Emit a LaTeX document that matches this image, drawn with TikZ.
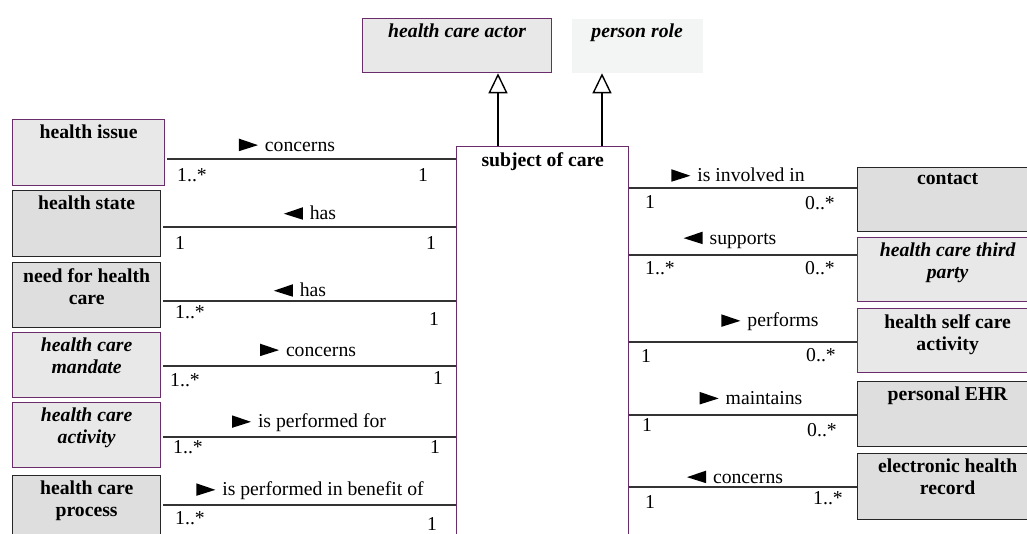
\documentclass[tikz,border=0pt]{standalone}
\usepackage{fontspec}
\setmainfont{Liberation Serif}
\usetikzlibrary{arrows.meta}
\definecolor{umlpurple}{HTML}{6A2C6A}
\definecolor{fillA}{HTML}{E8E8E8}
\definecolor{fillB}{HTML}{DEDEDE}
\definecolor{fillC}{HTML}{F3F4F4}
\definecolor{linegray}{HTML}{333333}
% small filled reading-direction triangles for association names
\newcommand\rdir{\tikz[baseline=0pt]\fill[black] (0pt,0pt)--(19pt,6pt)--(0pt,12.5pt)--cycle;\hspace{7pt}}
\newcommand\ldir{\tikz[baseline=0pt]\fill[black] (19pt,0pt)--(0pt,6pt)--(19pt,12.5pt)--cycle;\hspace{7pt}}
\begin{document}
\begin{tikzpicture}[x=1pt,y=-1pt,
  every node/.style={font=\fontsize{19.7}{22}\selectfont},
  cls/.style={rectangle, line width=1.3pt, inner sep=0pt, anchor=north west},
  pbox/.style={cls, draw=umlpurple, fill=fillA},
  kbox/.style={cls, draw=black!85, fill=fillB},
  ttl/.style={anchor=north, align=center, inner sep=0pt, yshift=-6pt, font=\fontsize{19.7}{22}\selectfont\bfseries},
  ittl/.style={ttl, font=\fontsize{19.7}{22}\selectfont\bfseries\itshape},
  assoc/.style={draw=linegray, line width=1.6pt},
  gen/.style={draw=black, line width=1.5pt, -{Triangle[open, length=20pt, width=19pt, line width=1.4pt]}},
  lab/.style={inner sep=0pt},
  mult/.style={inner sep=0pt}
]
\useasboundingbox (0,0) rectangle (1027,534);

% superclasses
\node[pbox, minimum width=189pt, minimum height=54pt,
  label={[ittl]north:health care actor}] (hca) at (362,18) {};
\node[cls, fill=fillC, minimum width=131pt, minimum height=54pt,
  label={[ittl]north:person role}] (pr) at (571,18) {};

% central class
\node[cls, draw=umlpurple, fill=white, minimum width=172pt, minimum height=400pt,
  label={[ttl]north:subject of care}] (soc) at (456,146) {};

% generalizations
\draw[gen] (soc.north -| 498,0) -- (hca.south -| 498,0);
\draw[gen] (soc.north -| 602,0) -- (pr.south -| 602,0);

% left-hand classes
\node[pbox, minimum width=152pt, minimum height=66pt,
  label={[ttl]north:health issue}] (hi) at (12,119) {};
\node[kbox, minimum width=148pt, minimum height=66pt,
  label={[ttl]north:health state}] (hs) at (12,190) {};
\node[kbox, minimum width=148pt, minimum height=65pt,
  label={[ttl]north:need for health\\care}] (nhc) at (12,262) {};
\node[pbox, minimum width=148pt, minimum height=65pt,
  label={[ittl]north:health care\\mandate}] (hcm) at (12,332) {};
\node[pbox, minimum width=148pt, minimum height=65pt,
  label={[ittl]north:health care\\activity}] (hca2) at (12,402) {};
\node[kbox, minimum width=148pt, minimum height=80pt,
  label={[ttl]north:health care\\process}] (hcp) at (12,475) {};

% right-hand classes
\node[kbox, minimum width=180pt, minimum height=64pt,
  label={[ttl]north:contact}] (con) at (857,167) {};
\node[pbox, minimum width=180pt, minimum height=64pt,
  label={[ittl]north:health care third\\party}] (tp) at (857,237) {};
\node[pbox, minimum width=180pt, minimum height=64pt,
  label={[ttl]north:health self care\\activity}] (sca) at (857,308) {};
\node[kbox, minimum width=180pt, minimum height=65pt,
  label={[ttl]north:personal EHR}] (pehr) at (857,381) {};
\node[kbox, minimum width=180pt, minimum height=66pt,
  label={[ttl]north:electronic health\\record}] (ehr) at (857,453) {};

% associations on the left
\draw[assoc] ([xshift=2pt]hi.east |- 0,159) -- (soc.west |- 0,159);
\node[lab] (a1) at (287,145) {\rdir concerns};
\node[mult] (m1a) at (192,175) {1..*};
\node[mult] (m1b) at (423,175) {1};

\draw[assoc] ([xshift=2pt]hs.east |- 0,227) -- (soc.west |- 0,227);
\node[lab] (a2) at (310,213) {\ldir has};
\node[mult] (m2a) at (180,243) {1};
\node[mult] (m2b) at (431,243) {1};

\draw[assoc] ([xshift=2pt]nhc.east |- 0,301) -- (soc.west |- 0,301);
\node[lab] (a3) at (300,290) {\ldir has};
\node[mult] (m3a) at (190,312) {1..*};
\node[mult] (m3b) at (434,319) {1};

\draw[assoc] ([xshift=2pt]hcm.east |- 0,366) -- (soc.west |- 0,366);
\node[lab] (a4) at (308,350) {\rdir concerns};
\node[mult] (m4a) at (185,380) {1..*};
\node[mult] (m4b) at (438,378) {1};

\draw[assoc] ([xshift=2pt]hca2.east |- 0,437) -- (soc.west |- 0,437);
\node[lab] (a5) at (309,423) {\rdir is performed for};
\node[mult] (m5a) at (188,447) {1..*};
\node[mult] (m5b) at (435,447) {1};

\draw[assoc] ([xshift=2pt]hcp.east |- 0,505) -- (soc.west |- 0,505);
\node[lab] (a6) at (310,491) {\rdir is performed in benefit of};
\node[mult] (m6a) at (190,518) {1..*};
\node[mult] (m6b) at (432,524) {1};

% associations on the right
\draw[assoc] (soc.east |- 0,188) -- (con.west |- 0,188);
\node[lab] (b1) at (738,175) {\rdir is involved in};
\node[mult] (n1a) at (650,202) {1};
\node[mult] (n1b) at (820,203) {0..*};

\draw[assoc] (soc.east |- 0,255) -- (tp.west |- 0,255);
\node[lab] (b2) at (730,240) {\ldir supports};
\node[mult] (n2a) at (660,268) {1..*};
\node[mult] (n2b) at (820,268) {0..*};

\draw[assoc] (soc.east |- 0,342) -- (sca.west |- 0,342);
\node[lab] (b3) at (770,322) {\rdir performs};
\node[mult] (n3a) at (646,356) {1};
\node[mult] (n3b) at (821,355) {0..*};

\draw[assoc] (soc.east |- 0,415) -- (pehr.west |- 0,415);
\node[lab] (b4) at (751,398) {\rdir maintains};
\node[mult] (n4a) at (647,425) {1};
\node[mult] (n4b) at (822,430) {0..*};

\draw[assoc] (soc.east |- 0,487) -- (ehr.west |- 0,487);
\node[lab] (b5) at (735,477) {\ldir concerns};
\node[mult] (n5a) at (650,502) {1};
\node[mult] (n5b) at (828,498) {1..*};
\end{tikzpicture}
\end{document}
